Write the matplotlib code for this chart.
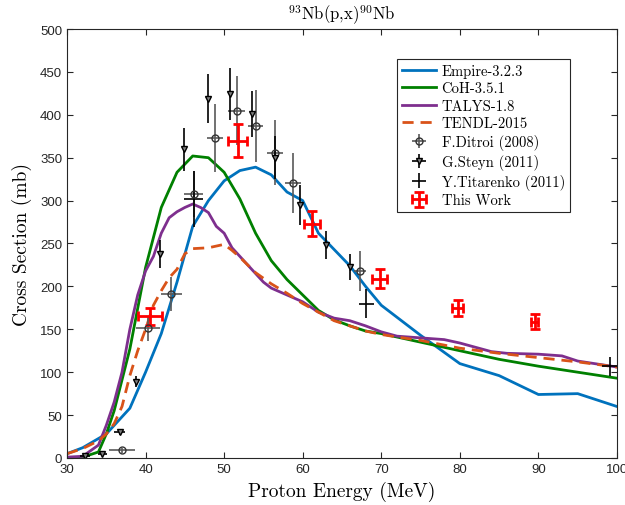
import numpy as np
import matplotlib
matplotlib.use('Agg')
import matplotlib.pyplot as plt

# model curves
e_empire = [30, 32, 35, 38, 40, 42, 44, 46, 48, 50, 52, 54, 56, 58, 60, 62, 64, 66, 68, 70, 75, 80, 85, 90, 95, 100]
s_empire = [5, 12, 28, 58, 100, 145, 205, 270, 300, 323, 335, 339, 330, 310, 300, 262, 243, 224, 200, 178, 143, 110, 96, 74, 75, 60]

e_coh = [30, 32, 34, 35, 36, 38, 40, 42, 44, 46, 48, 50, 52, 54, 56, 58, 60, 62, 64, 66, 68, 70, 75, 80, 85, 90, 95, 100]
s_coh = [0, 1, 7, 28, 55, 127, 222, 292, 333, 352, 350, 333, 302, 262, 230, 208, 190, 172, 161, 154, 148, 145, 135, 125, 115, 107, 100, 93]

e_talys = [30, 32, 34, 35, 36, 37, 38, 39, 40, 41, 42, 43, 44, 45, 46, 47, 48, 49, 50, 51, 52, 53, 54, 55, 56, 58, 60,
           62, 64, 66, 68, 70, 72, 75, 78, 80, 82, 84, 86, 90, 93, 95, 100]
s_talys = [1, 2, 15, 38, 65, 100, 150, 190, 218, 235, 262, 280, 287, 292, 296, 292, 286, 270, 262, 245, 235, 225, 215, 205,
           198, 190, 182, 170, 163, 160, 154, 147, 142, 140, 138, 134, 129, 124, 122, 121, 119, 113, 106]

e_tendl = [30, 32, 34, 35, 36, 37, 38, 39, 40, 41, 42, 43, 44, 45, 46, 48, 50, 51, 52, 54, 56, 58, 60, 62, 64, 66, 68,
           70, 72, 75, 80, 85, 90, 95, 100]
s_tendl = [5, 11, 20, 28, 40, 60, 96, 125, 150, 178, 195, 210, 220, 238, 244, 245, 249, 242, 234, 216, 203, 192, 180,
           170, 160, 154, 148, 144, 141, 137, 128, 122, 117, 112, 106]

# experimental data
e_ditroi = [37.0, 40.3, 43.3, 46.1, 48.8, 51.6, 54.0, 56.5, 58.8, 67.3]
s_ditroi = [9, 151, 191, 308, 373, 405, 387, 356, 321, 218]
dx_ditroi = [1.7, 1.5, 1.35, 1.2, 1.0, 1.1, 1.0, 1.0, 1.0, 0.8]
dy_ditroi = [3, 15, 20, 27, 40, 40, 42, 38, 35, 23]

e_steyn = [32.3, 34.5, 36.7, 38.8, 41.9, 44.9, 47.9, 50.7, 53.6, 56.5, 59.7, 63.0, 66.0]
s_steyn = [2, 5, 30, 89, 238, 360, 419, 424, 401, 350, 295, 248, 223]
dx_steyn = [0.6, 0.6, 0.7, 0, 0, 0, 0, 0, 0, 0, 0, 0, 0]
dy_steyn = [1, 2, 3, 6, 16, 25, 29, 30, 27, 25, 23, 16, 15]

e_tit = [46.1, 68.1, 99.1]
s_tit = [302, 180, 107]
dx_tit = [1.2, 1.0, 1.0]
dy_tit = [33, 17, 11]

e_this = [40.6, 51.7, 61.2, 69.8, 79.7, 89.5]
s_this = [165, 370, 273, 209, 175, 159]
dx_this = [1.55, 1.27, 1.06, 0.93, 0.74, 0.5]
dy_this = [9.5, 19, 14.5, 11, 9.3, 8.7]

plt.rcParams['mathtext.fontset'] = 'cm'
plt.rcParams['axes.unicode_minus'] = False
serif = 'cmr10'
sans = 'Liberation Sans'

fig = plt.figure(figsize=(6.25, 5.06), dpi=100)
ax = fig.add_axes([0.1072, 0.0929, 0.88, 0.8478])

ax.plot(e_empire, s_empire, color='#0072BD', lw=2, label='Empire-3.2.3')
ax.plot(e_coh, s_coh, color='#008000', lw=2, label='CoH-3.5.1')
ax.plot(e_talys, s_talys, color='#7E2F8E', lw=2, label='TALYS-1.8')
ax.plot(e_tendl, s_tendl, color='#D95319', lw=2, ls=(0, (4, 2.5)), label='TENDL-2015')

ax.errorbar(e_ditroi, s_ditroi, xerr=dx_ditroi, yerr=dy_ditroi, fmt='o', ms=5, mfc='none',
            mec='0.2', ecolor='0.35', elinewidth=1.2, mew=1, label='F.Ditroi (2008)')
ax.errorbar(e_steyn, s_steyn, xerr=dx_steyn, yerr=dy_steyn, fmt='v', ms=4.5, mfc='0.5',
            mec='black', ecolor='black', elinewidth=1.2, mew=1, label='G.Steyn (2011)')
ax.errorbar(e_tit, s_tit, xerr=dx_tit, yerr=dy_tit, fmt='none', ecolor='black',
            elinewidth=1.2, label='Y.Titarenko (2011)')
ax.errorbar(e_this, s_this, xerr=dx_this, yerr=dy_this, fmt='none', ecolor='red',
            elinewidth=2, capsize=3.5, capthick=2, label='This Work')

ax.set_xlim(30, 100)
ax.set_ylim(0, 500)
ax.set_xticks(np.arange(30, 101, 10))
ax.set_yticks(np.arange(0, 501, 50))
ax.tick_params(direction='in', top=True, right=True, length=4, width=0.8,
               colors='0.15', labelsize=9.5, labelcolor='0.15')
for lab in ax.get_xticklabels() + ax.get_yticklabels():
    lab.set_family(sans)
for sp in ax.spines.values():
    sp.set_color('0.15')
    sp.set_linewidth(0.8)

ax.set_xlabel('Proton Energy (MeV)', family=serif, fontsize=14, labelpad=4)
ax.set_ylabel('Cross Section (mb)', family=serif, fontsize=14, labelpad=6)
ax.set_title(r'$^{93}$Nb(p,x)$^{90}$Nb', family=serif, fontsize=12, pad=7)

leg = ax.legend(loc='upper right', bbox_to_anchor=(0.925, 0.944), prop={'family': serif, 'size': 10.5},
                fancybox=False, edgecolor='0.15', framealpha=1, handlelength=2.3,
                labelspacing=0.26, borderpad=0.35, handletextpad=0.4, borderaxespad=0.4)
leg.get_frame().set_linewidth(0.8)

fig.savefig('out.png', dpi=100)
